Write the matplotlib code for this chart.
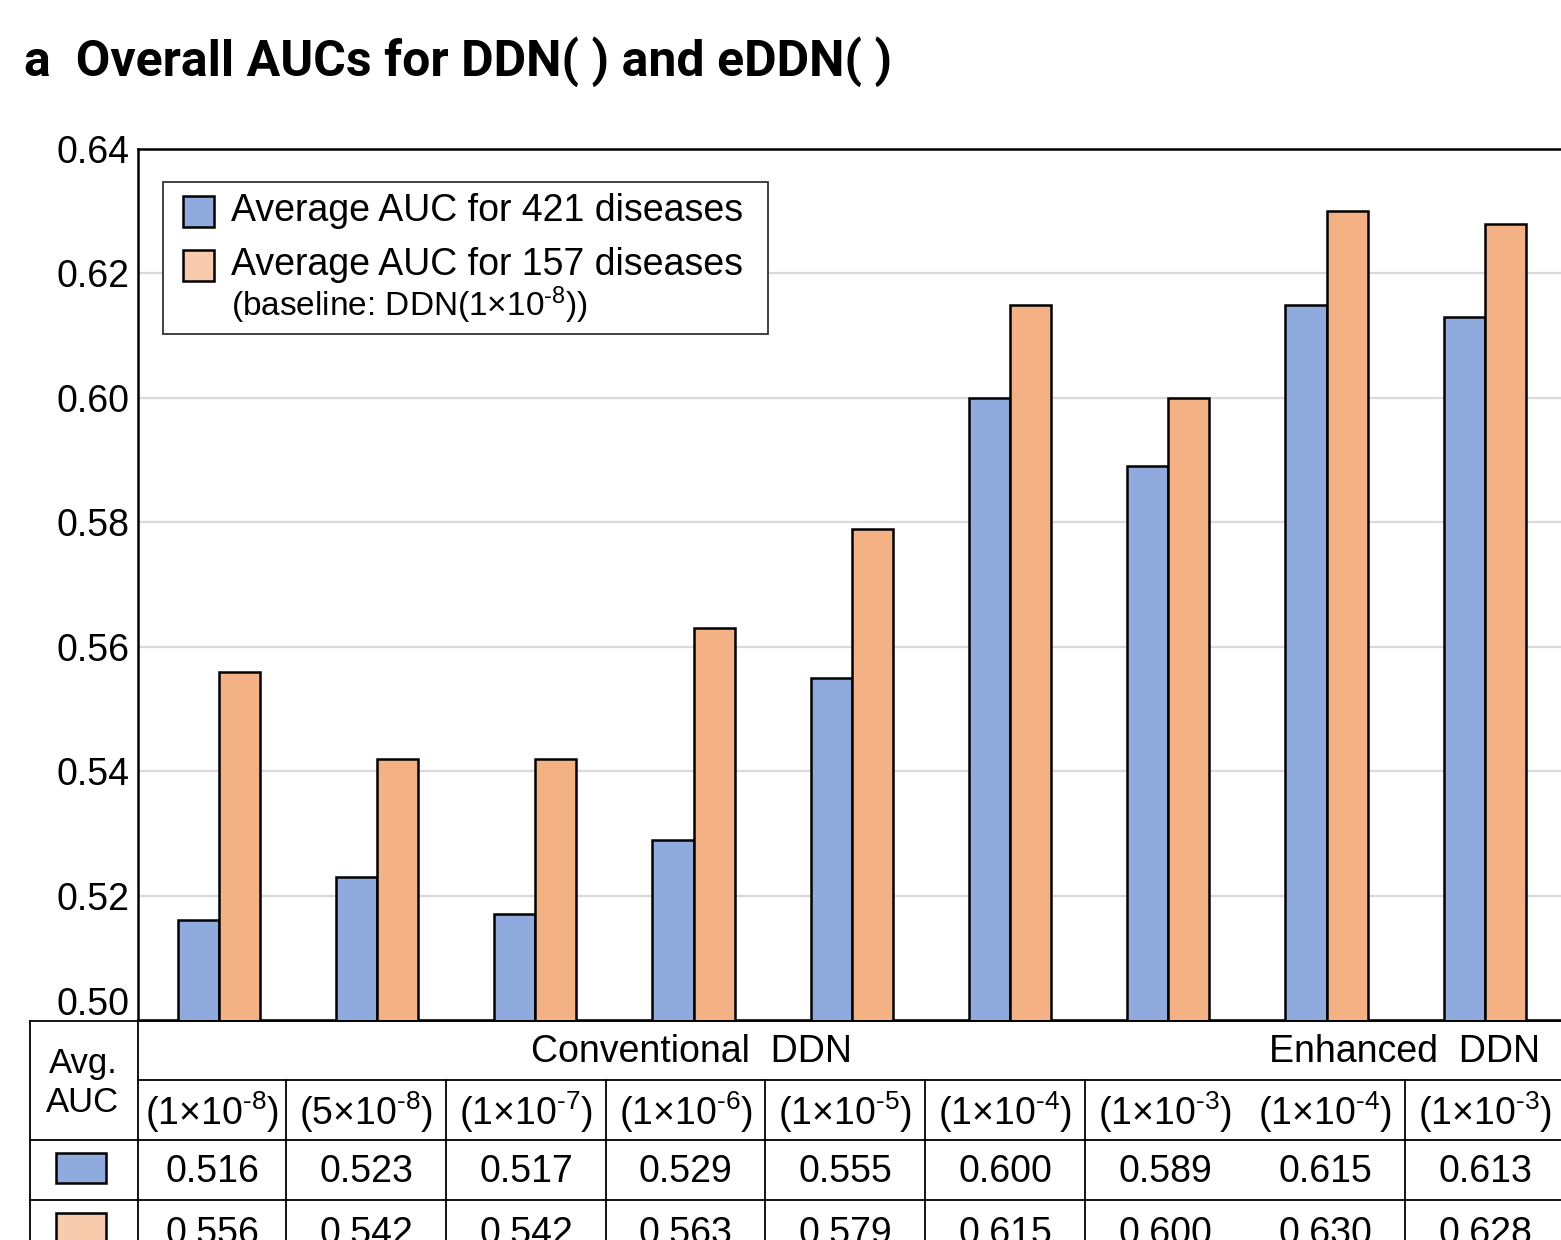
import matplotlib
matplotlib.use("Agg")
import matplotlib.pyplot as plt
import matplotlib.transforms as mtransforms
from matplotlib.patches import Rectangle
import numpy as np

plt.rcParams['font.family'] = ['Liberation Sans', 'DejaVu Sans']
plt.rcParams['mathtext.fontset'] = 'custom'
plt.rcParams['mathtext.rm'] = 'Liberation Sans'
plt.rcParams['mathtext.it'] = 'Liberation Sans'

# data
params = ['(1×10$^{\\text{-8}}$)', '(5×10$^{\\text{-8}}$)', '(1×10$^{\\text{-7}}$)',
          '(1×10$^{\\text{-6}}$)', '(1×10$^{\\text{-5}}$)', '(1×10$^{\\text{-4}}$)',
          '(1×10$^{\\text{-3}}$)', '(1×10$^{\\text{-4}}$)', '(1×10$^{\\text{-3}}$)']
auc_421 = [0.516, 0.523, 0.517, 0.529, 0.555, 0.600, 0.589, 0.615, 0.613]
auc_157 = [0.556, 0.542, 0.542, 0.563, 0.579, 0.615, 0.600, 0.630, 0.628]
groups = ['Conventional  DDN', 'Enhanced  DDN']
group_size = [7, 2]

blue = '#8faadc'
orange = '#f4b183'
orange_light = '#f8cbad'

W, H = 1561, 1240
fig = plt.figure(figsize=(W / 100, H / 100), dpi=100)

# bar axes
ax = fig.add_axes([138 / W, (H - 1020) / H, (1564 - 138) / W, (1020 - 149) / H])
x = np.arange(len(auc_421))
w = 0.26
ax.bar(x - w / 2, auc_421, w, color=blue, edgecolor='black', linewidth=1.8, zorder=3)
ax.bar(x + w / 2, auc_157, w, color=orange, edgecolor='black', linewidth=1.8, zorder=3)
ax.set_ylim(0.50, 0.64)
ax.set_xlim(-0.51, 8.5)
yt = np.arange(0.50, 0.641, 0.02)
ax.set_yticks(yt)
ax.set_yticklabels(['%.2f' % v for v in yt])
ax.tick_params(axis='y', length=0, pad=6, labelsize=27)
ax.set_xticks([])
ax.yaxis.grid(True, color='#d9d9d9', linewidth=1.6, zorder=0)
ax.set_axisbelow(True)
for s in ['top', 'left', 'bottom']:
    ax.spines[s].set_linewidth(1.8)
ax.spines['right'].set_visible(False)
# lift the lowest label above the table line
lab0 = ax.get_yticklabels()[0]
lab0.set_transform(lab0.get_transform() + mtransforms.ScaledTranslation(0, 19 / 100, fig.dpi_scale_trans))

# overlay in pixel coordinates for title, legend and table
ov = fig.add_axes([0, 0, 1, 1], zorder=5)
ov.set_xlim(0, W)
ov.set_ylim(H, 0)
ov.axis('off')
ov.patch.set_alpha(0)

ov.text(24, 62, 'a  Overall AUCs for DDN( ) and eDDN( )', fontsize=36, fontweight='bold',
        family='Roboto', va='center', ha='left')

# legend
ov.add_patch(Rectangle((163, 182), 605, 152, facecolor='white', edgecolor='#333333', lw=1.3))
ov.add_patch(Rectangle((183, 196), 31, 31, facecolor=blue, edgecolor='black', lw=1.8))
ov.add_patch(Rectangle((183, 250), 31, 31, facecolor=orange_light, edgecolor='black', lw=1.8))
ov.text(231, 211, 'Average AUC for 421 diseases', fontsize=27, va='center')
ov.text(231, 265, 'Average AUC for 157 diseases', fontsize=27, va='center')
ov.text(231, 305, '(baseline: DDN(1×10$^{\\text{-8}}$))', fontsize=24, va='center')

# table
lc = 'black'
tl = 1.3
col_edges = [138, 286, 446, 606, 765, 925, 1085, 1245, 1405, 1565]
ov.plot([30, W], [1021, 1021], color=lc, lw=tl)
ov.plot([138, W], [1080, 1080], color=lc, lw=tl)
ov.plot([30, W], [1140, 1140], color=lc, lw=tl)
ov.plot([30, W], [1200, 1200], color=lc, lw=tl)
ov.plot([30, 30], [1021, H], color=lc, lw=tl)
ov.plot([138, 138], [1021, H], color=lc, lw=tl)
for i, e in enumerate(col_edges[1:-1]):
    if i + 1 == group_size[0]:
        continue
    ov.plot([e, e], [1080, H], color=lc, lw=tl)

ov.text(83, 1064, 'Avg.', fontsize=25, ha='center', va='center')
ov.text(83, 1102, 'AUC', fontsize=25, ha='center', va='center')
ov.add_patch(Rectangle((56, 1153), 50, 30, facecolor=blue, edgecolor='black', lw=1.8))
ov.add_patch(Rectangle((56, 1213), 50, 40, facecolor=orange_light, edgecolor='black', lw=1.8))

start = 0
for g, n in zip(groups, group_size):
    cx = (col_edges[start] + col_edges[start + n]) / 2
    ov.text(cx, 1052, g, fontsize=27, ha='center', va='center')
    start += n

for i in range(len(params)):
    cx = (col_edges[i] + col_edges[i + 1]) / 2
    ov.text(cx, 1112, params[i], fontsize=27, ha='center', va='center')
    ov.text(cx, 1172, '%.3f' % auc_421[i], fontsize=27, ha='center', va='center')
    ov.text(cx, 1234, '%.3f' % auc_157[i], fontsize=27, ha='center', va='center')

fig.savefig('out.png', dpi=100)
